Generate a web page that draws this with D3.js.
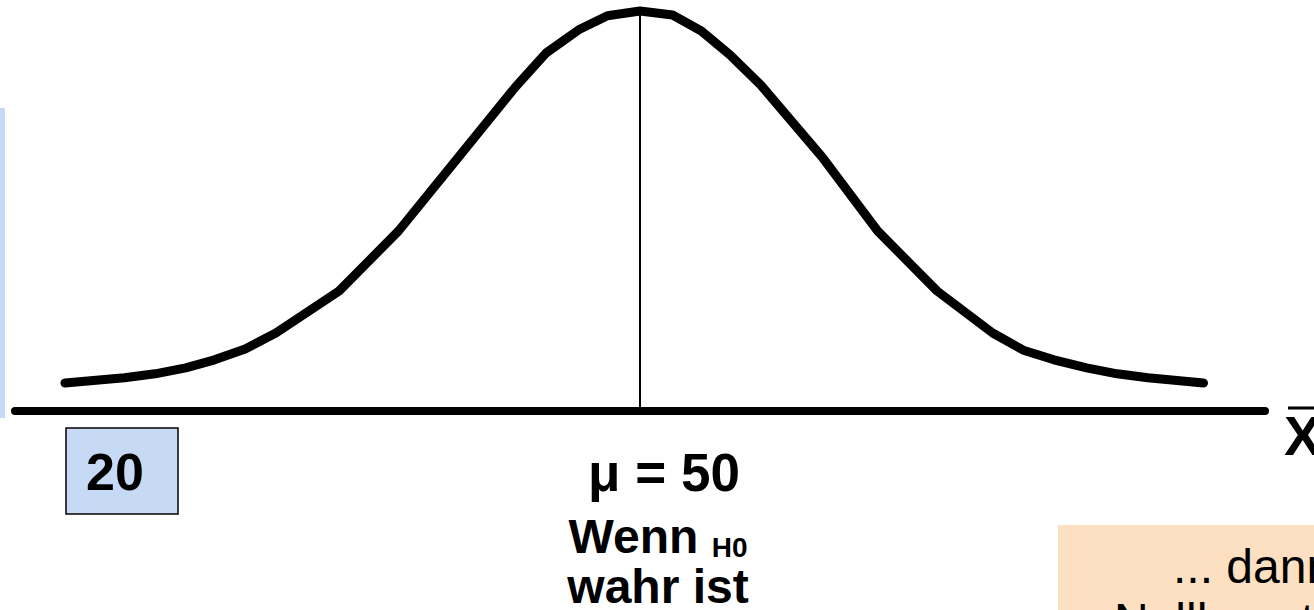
<!DOCTYPE html>
<html>
<head>
<meta charset="utf-8">
<script src="https://cdn.jsdelivr.net/npm/d3@7"></script>
<style>
  html, body { margin: 0; padding: 0; background: #fff; overflow: hidden; }
  text { font-family: "Liberation Sans", Arial, sans-serif; }
</style>
</head>
<body>
<div id="chart"></div>
<script>
// curve vertices: sample mean (x) and relative density (y)
var xValues = [20, 23.1, 24.7, 26.3, 27.8, 29.4, 31.0, 34.3, 37.4, 40.5, 43.5, 45.1, 46.8, 48.3, 50,
               51.7, 53.2, 54.7, 56.3, 59.5, 62.4, 65.5, 68.4, 70.0, 71.6, 73.3, 74.9, 76.5, 79.4];
var density = [0.07, 0.083, 0.093, 0.108, 0.128, 0.155, 0.195, 0.30, 0.45, 0.633, 0.81, 0.895, 0.953, 0.988, 1.0,
               0.99, 0.95, 0.89, 0.815, 0.635, 0.45, 0.30, 0.195, 0.152, 0.128, 0.108, 0.093, 0.083, 0.07];
var mu = 50;
var criticalLabel = '20';
var muLabel = 'μ = 50';
var noteLines = ['... dann wird die', 'Nullhypothese'];

const width = 1314;
const height = 610;

const svg = d3.select('#chart')
  .append('svg')
  .attr('width', width)
  .attr('height', height);

const xScale = d3.scaleLinear()
  .domain([20, 80])
  .range([65, 1215]);

const yScale = d3.scaleLinear()
  .domain([0, 1])
  .range([411, 11]);

// blue strip on the left edge
svg.append('rect')
  .attr('x', 0).attr('y', 108)
  .attr('width', 5).attr('height', 310)
  .attr('fill', '#c6d9f5');

// axis line
svg.append('line')
  .attr('x1', 15).attr('x2', 1265)
  .attr('y1', yScale(0)).attr('y2', yScale(0))
  .attr('stroke', '#000')
  .attr('stroke-width', 8)
  .attr('stroke-linecap', 'round');

// mean line
svg.append('line')
  .attr('x1', xScale(mu)).attr('x2', xScale(mu))
  .attr('y1', yScale(1)).attr('y2', yScale(0))
  .attr('stroke', '#000')
  .attr('stroke-width', 2);

// the curve
const line = d3.line()
  .x((d, i) => xScale(xValues[i]))
  .y(d => yScale(d));

svg.append('path')
  .datum(density)
  .attr('d', line)
  .attr('fill', 'none')
  .attr('stroke', '#000')
  .attr('stroke-width', 9)
  .attr('stroke-linecap', 'round')
  .attr('stroke-linejoin', 'round');

// x bar label
svg.append('line')
  .attr('x1', 1288).attr('x2', 1314)
  .attr('y1', 408).attr('y2', 408)
  .attr('stroke', '#000')
  .attr('stroke-width', 3);
svg.append('text')
  .attr('x', 1284).attr('y', 455)
  .style('font-size', '56px')
  .style('font-weight', 'bold')
  .text('X');

// box with the critical value
svg.append('rect')
  .attr('x', 66).attr('y', 428)
  .attr('width', 112).attr('height', 86)
  .attr('fill', '#c6d9f5')
  .attr('stroke', '#000')
  .attr('stroke-width', 1.5);
svg.append('text')
  .attr('x', 115).attr('y', 490)
  .attr('text-anchor', 'middle')
  .style('font-size', '52px')
  .style('font-weight', 'bold')
  .text(criticalLabel);

// mu labels
svg.append('text')
  .attr('x', 664).attr('y', 491)
  .attr('text-anchor', 'middle')
  .style('font-size', '53px')
  .style('font-weight', 'bold')
  .text(muLabel);

const wenn = svg.append('text')
  .attr('x', 658).attr('y', 553)
  .attr('text-anchor', 'middle')
  .style('font-size', '48px')
  .style('font-weight', 'bold');
wenn.append('tspan').text('Wenn ');
wenn.append('tspan')
  .attr('dy', 4)
  .style('font-size', '28px')
  .text('H0');

svg.append('text')
  .attr('x', 658).attr('y', 603)
  .attr('text-anchor', 'middle')
  .style('font-size', '48px')
  .style('font-weight', 'bold')
  .text('wahr ist');

// peach note box (cut off at the edge)
svg.append('rect')
  .attr('x', 1058).attr('y', 525)
  .attr('width', 260).attr('height', 90)
  .attr('fill', '#fce0c1');
svg.append('text')
  .attr('x', 1173).attr('y', 583)
  .style('font-size', '48px')
  .text(noteLines[0]);
svg.append('text')
  .attr('x', 1114).attr('y', 637)
  .style('font-size', '48px')
  .text(noteLines[1]);
</script>
</body>
</html>
